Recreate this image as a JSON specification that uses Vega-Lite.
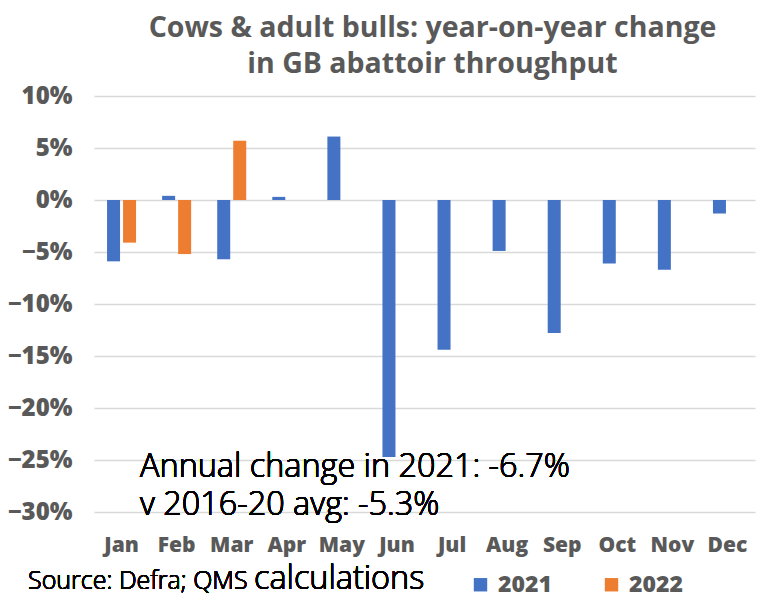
{
  "$schema": "https://vega.github.io/schema/vega-lite/v6.json",
  "width": 661,
  "height": 416,
  "autosize": {"type": "none"},
  "padding": {"left": 94, "top": 96, "right": 2, "bottom": 96},
  "background": "white",
  "title": {
    "text": ["Cows & adult bulls: year-on-year change", "in GB abattoir throughput"],
    "font": "Open Sans",
    "fontSize": 28.5,
    "fontWeight": "bold",
    "color": "#595959",
    "anchor": "middle",
    "dx": 8,
    "offset": 6,
    "lineHeight": 36
  },
  "config": {
    "view": {"stroke": null},
    "axis": {
      "labelFont": "Open Sans",
      "labelFontWeight": 800,
      "labelColor": "#595959",
      "domain": false,
      "ticks": false,
      "title": null
    }
  },
  "data": {
    "values": [
      {"month": "Jan", "year": "2021", "value": -0.059},
      {"month": "Feb", "year": "2021", "value": 0.004},
      {"month": "Mar", "year": "2021", "value": -0.057},
      {"month": "Apr", "year": "2021", "value": 0.003},
      {"month": "May", "year": "2021", "value": 0.061},
      {"month": "Jun", "year": "2021", "value": -0.247},
      {"month": "Jul", "year": "2021", "value": -0.144},
      {"month": "Aug", "year": "2021", "value": -0.049},
      {"month": "Sep", "year": "2021", "value": -0.128},
      {"month": "Oct", "year": "2021", "value": -0.061},
      {"month": "Nov", "year": "2021", "value": -0.067},
      {"month": "Dec", "year": "2021", "value": -0.013},
      {"month": "Jan", "year": "2022", "value": -0.041},
      {"month": "Feb", "year": "2022", "value": -0.052},
      {"month": "Mar", "year": "2022", "value": 0.057}
    ]
  },
  "layer": [
    {
      "mark": {"type": "bar"},
      "encoding": {
        "x": {
          "field": "month",
          "type": "nominal",
          "sort": ["Jan","Feb","Mar","Apr","May","Jun","Jul","Aug","Sep","Oct","Nov","Dec"],
          "scale": {"paddingInner": 0.4735, "paddingOuter": 0.237},
          "axis": {"labelAngle": 0, "labelFontSize": 21, "labelPadding": 22, "grid": false}
        },
        "xOffset": {
          "field": "year",
          "type": "nominal",
          "scale": {"domain": ["2021", "2022"], "paddingInner": 0.1875}
        },
        "y": {
          "field": "value",
          "type": "quantitative",
          "scale": {"domain": [-0.3, 0.1], "nice": false},
          "axis": {
            "format": ".0%",
            "values": [-0.3, -0.25, -0.2, -0.15, -0.1, -0.05, 0, 0.05, 0.1],
            "labelFontSize": 24,
            "labelPadding": 22,
            "grid": true,
            "gridColor": "#d9d9d9",
            "gridWidth": 1.5
          }
        },
        "color": {
          "field": "year",
          "type": "nominal",
          "scale": {"domain": ["2021", "2022"], "range": ["#4472C4", "#ED7D31"]},
          "legend": {
            "title": null,
            "orient": "none",
            "legendX": 375,
            "legendY": 477,
            "direction": "horizontal",
            "symbolType": "square",
            "symbolSize": 180,
            "symbolStrokeWidth": 0,
            "labelFont": "Open Sans",
            "labelFontWeight": 800,
            "labelFontSize": 23,
            "labelColor": "#595959",
            "labelOffset": 6,
            "columnPadding": 48
          }
        }
      }
    },
    {
      "mark": {"type": "text", "align": "left", "baseline": "alphabetic", "font": "Open Sans", "fontWeight": 300, "fontSize": 32.4, "color": "#000000", "dx": 33},
      "encoding": {
        "x": {"datum": "Jan", "type": "nominal", "bandPosition": 0},
        "y": {"datum": -0.2663, "type": "quantitative"},
        "text": {"value": "Annual change in 2021: -6.7%"}
      }
    },
    {
      "mark": {"type": "text", "align": "left", "baseline": "alphabetic", "font": "Open Sans", "fontWeight": 300, "fontSize": 32.4, "color": "#000000", "dx": 33},
      "encoding": {
        "x": {"datum": "Jan", "type": "nominal", "bandPosition": 0},
        "y": {"datum": -0.3029, "type": "quantitative"},
        "text": {"value": "v 2016-20 avg: -5.3%"}
      }
    },
    {
      "mark": {"type": "text", "align": "left", "baseline": "alphabetic", "font": "Open Sans", "fontWeight": 300, "fontSize": 25, "color": "#000000", "dx": -79},
      "encoding": {
        "x": {"datum": "Jan", "type": "nominal", "bandPosition": 0},
        "y": {"datum": -0.374, "type": "quantitative"},
        "text": {"value": "Source: Defra; QMS"}
      }
    },
    {
      "mark": {"type": "text", "align": "left", "baseline": "alphabetic", "font": "Open Sans", "fontWeight": 300, "fontSize": 32.4, "color": "#000000", "dx": 147},
      "encoding": {
        "x": {"datum": "Jan", "type": "nominal", "bandPosition": 0},
        "y": {"datum": -0.374, "type": "quantitative"},
        "text": {"value": "calculations"}
      }
    }
  ]
}
